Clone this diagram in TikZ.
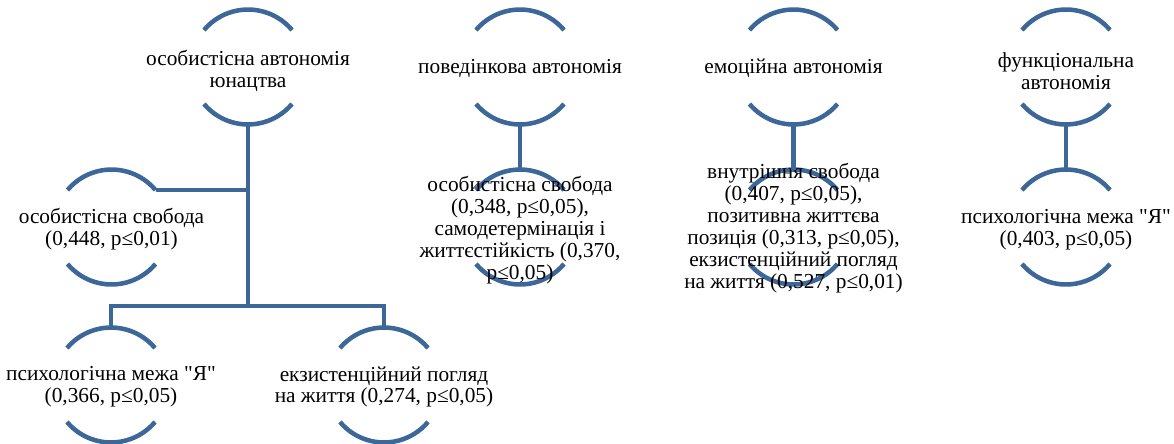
\documentclass[tikz,border=0pt]{standalone}
\usepackage{fontspec}
\setmainfont{Liberation Serif}[Ligatures=TeXOff]
\newfontfamily\lbfont{Liberation Serif}[Ligatures=TeXOff]
\usetikzlibrary{calc}
\definecolor{ln}{RGB}{62,103,153}
\newcommand\bnode[5]{%
  \coordinate (#1) at (#2,#3);
  \draw[arcln] ($(#1)+(40:43.1pt)$) arc[start angle=40,end angle=140,radius=43.1pt];
  \draw[arcln] ($(#1)+(220:43.1pt)$) arc[start angle=220,end angle=320,radius=43.1pt];
  \coordinate (#1-t) at ($(#1)+(0,-57.5)$);
  \coordinate (#1-b) at ($(#1)+(0,57.5)$);
  \coordinate (#1-tr) at ($(#1)+(40:43.1pt)$);
  \node[lbl] (#1-txt) at ($(#1)+(0,#4)$) {#5};
}
\begin{document}
\begin{tikzpicture}[x=0.75pt,y=-0.75pt,
  lbl/.style={align=center,font=\lbfont\fontsize{16}{16.4}\selectfont,inner sep=0pt,text=black},
  arcln/.style={draw=ln,line width=3.4pt},
  conn/.style={draw=ln,line width=3.4pt}]
\useasboundingbox (0,0) rectangle (1174,443);
\bnode{root}{248}{67}{4}{особистісна автономія\\юнацтва}
\bnode{c1}{111.5}{227}{2.5}{особистісна свобода\\(0,448, p≤0,01)}
\bnode{c2}{111}{385}{2}{психологічна межа "Я"\\(0,366, p≤0,05)}
\bnode{c3}{384}{385}{2}{екзистенційний погляд\\на життя (0,274, p≤0,05)}
\bnode{b}{520}{67}{1.5}{поведінкова автономія}
\bnode{b1}{520}{227}{3}{особистісна свобода\\(0,348, p≤0,05),\\самодетермінація і\\життєстійкість (0,370,\\p≤0,05)}
\bnode{e}{793.5}{67}{1.5}{емоційна автономія}
\bnode{e1}{793.5}{227}{1}{внутрішня свобода\\(0,407, p≤0,05),\\позитивна життєва\\позиція (0,313, p≤0,05),\\екзистенційний погляд\\на життя (0,527, p≤0,01)}
\bnode{f}{1066}{67}{4}{функціональна\\автономія}
\bnode{f1}{1066}{227}{3}{психологічна межа "Я"\\(0,403, p≤0,05)}
\coordinate (j) at (248,306);
\draw[conn] (root-b) -- (j);
\draw[conn] (c1-tr) -- (c1-tr -| root-b);
\draw[conn] (c2-t) -- (c2-t |- j) -- (c3-t |- j) -- (c3-t);
\draw[conn] (b-b) -- (b1-t);
\draw[conn] (e-b) -- (e1-t);
\draw[conn] (f-b) -- (f1-t);
\end{tikzpicture}
\end{document}
